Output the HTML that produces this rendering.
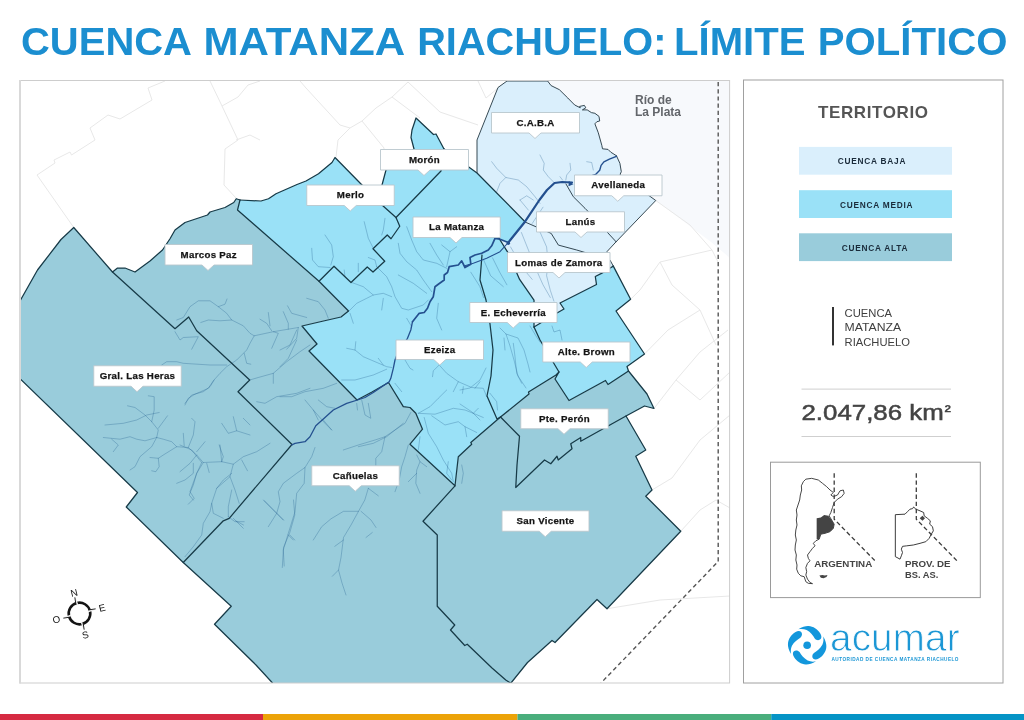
<!DOCTYPE html>
<html lang="es"><head><meta charset="utf-8">
<title>Cuenca Matanza Riachuelo: Límite Político</title>
<style>
html,body{margin:0;padding:0;background:#fff;}
body{width:1024px;height:720px;overflow:hidden;position:relative;font-family:"Liberation Sans",sans-serif;}
svg{position:absolute;left:0;top:0;display:block;}
text{font-family:"Liberation Sans",sans-serif;}
.lb{font-weight:bold;font-size:9.7px;letter-spacing:.3px;fill:#151515;stroke:#151515;stroke-width:.25;text-anchor:middle;}
.bd{fill:none;stroke:#173a47;stroke-width:1.25;stroke-linejoin:round;stroke-linecap:round;}
.st{fill:none;stroke:#1f5a8c;stroke-width:.8;stroke-opacity:.38;stroke-linejoin:round;stroke-linecap:round;}
.ft{fill:none;stroke:#e8e8e8;stroke-width:1;stroke-linejoin:round;}
.rv{fill:none;stroke:#24508f;stroke-linejoin:round;stroke-linecap:round;}
.ds{fill:none;stroke:#555;stroke-width:1;stroke-dasharray:4 3;}
</style></head><body>
<svg width="1024" height="720" viewBox="0 0 1024 720">
<rect x="0" y="0" width="1024" height="720" fill="#fff"/>
<text x="21" y="55.1" font-size="38.1" font-weight="bold" fill="#1b8ed0" textLength="171" lengthAdjust="spacingAndGlyphs">CUENCA</text>
<text x="203.4" y="55.1" font-size="38.1" font-weight="bold" fill="#1b8ed0" textLength="201.8" lengthAdjust="spacingAndGlyphs">MATANZA</text>
<text x="417.2" y="55.1" font-size="38.1" font-weight="bold" fill="#1b8ed0" textLength="249.2" lengthAdjust="spacingAndGlyphs">RIACHUELO:</text>
<text x="674" y="55.1" font-size="38.1" font-weight="bold" fill="#1b8ed0" textLength="131.5" lengthAdjust="spacingAndGlyphs">LÍMITE</text>
<text x="817.8" y="55.1" font-size="38.1" font-weight="bold" fill="#1b8ed0" textLength="189.6" lengthAdjust="spacingAndGlyphs">POLÍTICO</text>
<clipPath id="mapclip"><rect x="20" y="80.5" width="710" height="602.5"/></clipPath>
<g clip-path="url(#mapclip)">
<polygon points="547,81 730,81 730,258 711,242 655.75,200.5 620,174.5 621.3,171.7 619.9,163.3 616.4,155.7 610.8,152.2 608,149.4 602.5,148.8 601.8,145.3 598.3,132.8 594.9,123.8 596.9,121.7 599.7,121 599,116.4 594.9,113.3 591.4,112.6 587.2,109.9 582.4,109.9 585.8,107.8 584.4,105.4 579.6,106.4 580.3,107.8 574.7,105 567.8,98 559.4,89.7 551.1,85.6 547.6,81" fill="#f7f9fc"/>
<polyline class="ft" points="73.75,227.5 37,175 55,163 54,160 70,152 71.5,155 95,140 90,128 108,115 120,119 152,100 148,88 165,81"/>
<polyline class="ft" points="210,81 222,106 238,97 248,85"/>
<polyline class="ft" points="222,106 238,140 225,149 224,185 236,198"/>
<polyline class="ft" points="248,85 260,81"/>
<polyline class="ft" points="236,140 250,135 260,140"/>
<polyline class="ft" points="300,81 306,88 340,125 350,128 338,140 336,157"/>
<polyline class="ft" points="350,128 362,121 376,108 392,97 408,82"/>
<polyline class="ft" points="362,121 384,148 382,170"/>
<polyline class="ft" points="392,97 420,118"/>
<polyline class="ft" points="408,82 440,112 478,125"/>
<polyline class="ft" points="478,81 486,98 498,88"/>
<polyline class="ft" points="655.75,200.5 690,225 712,250 718,262"/>
<polyline class="ft" points="630.6,299.3 640,290 660,262 712,250"/>
<polyline class="ft" points="660,262 672,285 700,310 716,345"/>
<polyline class="ft" points="644.5,354 668,330 700,310"/>
<polyline class="ft" points="654,408.5 676,380 700,352 728,330"/>
<polyline class="ft" points="676,380 700,400 730,372"/>
<polyline class="ft" points="652,490 672,478 700,440 730,415"/>
<polyline class="ft" points="680.75,531.25 700,510 716,500"/>
<polyline class="ft" points="607,608.75 660,600 730,596"/>
<polyline class="ft" points="716,500 730,508"/>
<polygon points="20,301 37.5,270 61,239.5 73.75,227.5 112.5,272 117.5,268 125,268 135,272 150,261 162.5,250 170,238.75 175,230 185,222.5 207.5,215 210,212 225,207.5 233.75,202.5 236.25,198.75 240,200 237.5,210 319,281.25 348.5,311 341,317 323.5,321 302,326 317,344 309,351 357,400 372,392 388.5,382.5 403.3,406.7 410,407.5 415.8,413.3 422.5,429.2 410,444.2 455,485.8 458.3,456.7 471.7,444.2 470.8,442.5 500.5,417 529,394 528.5,392 556,375 559,372 555,379 569,400.5 605.5,380.5 608,384.5 628.5,371 647,394 654,408.5 644.5,406 626,416 645.75,450 635.75,456.25 652,490 645.75,496.25 680.75,531.25 607,608.75 597,599.5 555,642.5 552,640.5 527.5,662.5 511,683 272.5,683 256,665 214.5,624.25 231.25,606.25 183.25,562.5 126.25,507 137.5,492.5 20,378.75" fill="#99ccdb"/>
<polygon points="240,200 261,201 268.5,198.75 276,193.75 297,184.5 306,181 318.5,173.75 332,162.5 335,157.5 361,184 382,205 382,185 386,170 414,149 411,137.5 412,130 416,118 433.5,134.5 436,134 444,149 477,173 525,221.7 560,250 613.3,266.1 630.6,299.3 616,311 644.5,354 627,366.5 628.5,371 608,384.5 605.5,380.5 569,400.5 555,379 559,372 556,375 528.5,392 529,394 500.5,417 470.8,442.5 471.7,444.2 458.3,456.7 455,485.8 410,444.2 422.5,429.2 415.8,413.3 410,407.5 403.3,406.7 388.5,382.5 372,392 357,400 309,351 317,344 302,326 323.5,321 341,317 348.5,311 319,281.25 237.5,210 240,200" fill="#9ae1f7"/>
<polygon points="477,172.5 477,140 498,87.5 507,81 547.6,81 551.1,85.6 559.4,89.7 567.8,98 574.7,105 580.3,107.8 579.6,106.4 584.4,105.4 585.8,107.8 582.4,109.9 587.2,109.9 591.4,112.6 594.9,113.3 599,116.4 599.7,121 596.9,121.7 594.9,123.8 598.3,132.8 601.8,145.3 602.5,148.8 608,149.4 610.8,152.2 616.4,155.7 619.9,163.3 621.3,171.7 620,174.5 655.75,200.5 616.1,241.8 607.1,251.5 607,258 609.9,259.9 613.3,266.1 610.6,267.8 601.5,273.4 595.3,276.5 596.5,284.5 560,303 564,309 557,313 534,327 534,300.2 519.6,279.4 507.8,252.3 498.8,238 507.8,243.3 525,221.7" fill="#daeffc"/>
<polyline class="st" points="103.3,437.5 120,439.2 130,436.7 136.7,439.2 145,440.8 156.7,437.5 163.3,439.2 171.7,441.7 176.7,446.7 188.3,447.5 196.7,455 203.3,462.5 221.7,461.7 233.3,464.2 243.3,456.7 256.7,451.7 270,443.3"/>
<polyline class="st" points="156.7,437.5 158.3,430 151.7,421.7 145,415 135,407.5 127.5,405.8"/>
<polyline class="st" points="151.7,421.7 154.2,410 154.2,396.7 148.3,395.8"/>
<polyline class="st" points="105,425 123.3,423.3 136.7,420 146.7,415 159.2,412.5"/>
<polyline class="st" points="158.3,428.3 167.5,415.8"/>
<polyline class="st" points="156.7,437.5 151.7,446.7 140,456.7 135,466.7 130,470"/>
<polyline class="st" points="176.7,446.7 163.3,455 158.3,458.3 150,457.5"/>
<polyline class="st" points="158.3,458.3 159.2,466.7 155.8,471.7 151.7,470.8"/>
<polyline class="st" points="188.3,447.5 193.3,435 195,421.7 191.7,418.3"/>
<polyline class="st" points="183.3,433.3 184.2,445.8"/>
<polyline class="st" points="196.7,451.7 205,441.7"/>
<polyline class="st" points="196.7,455 190,463.3 180,471.7"/>
<polyline class="st" points="193.3,463.3 193.3,473.3 185,480 176.7,483.3"/>
<polyline class="st" points="203.3,462.5 196.7,473.3 193.3,485 189.2,495 193.3,500"/>
<polyline class="st" points="206.7,463.3 209.2,472.5"/>
<polyline class="st" points="221.7,461.7 223.3,456.7 219.2,445"/>
<polyline class="st" points="233.3,464.2 230,476.7 216.7,488.3 211.7,503.3 213.3,513.3 223.3,518.3"/>
<polyline class="st" points="230,476.7 235,490 239.2,503.3"/>
<polyline class="st" points="231.7,490 228.3,506.7 228.3,516.7"/>
<polyline class="st" points="231.7,473.3 223.3,480 216.7,488.3"/>
<polyline class="st" points="241.7,460 247.5,470.8"/>
<polyline class="st" points="185,403.3 191.7,395 203.3,391.7 210,386.7 214.2,380"/>
<polyline class="st" points="221.7,423.3 228.3,433.3 236.7,430.8 250,435"/>
<polyline class="st" points="236.7,430.8 233.3,416.7"/>
<polyline class="st" points="243.3,418.3 250,425"/>
<polyline class="st" points="111.7,439.2 118.3,445 113.3,451.7"/>
<polyline class="st" points="180,445 191.7,450 201.7,462.5"/>
<polyline class="st" points="201.7,462.5 196.7,473.3 190,491.7 194.2,498.3 188.3,504.2"/>
<polyline class="st" points="220,445 221.7,461.7"/>
<polyline class="st" points="211.7,503.3 210,511.7 203.3,523.3 201.7,535 193.3,546.7 185,556.7"/>
<polyline class="st" points="228.3,516.7 235,521.7 244.2,521.7"/>
<polyline class="st" points="233.3,518.3 243.3,528.3"/>
<polyline class="st" points="176.7,320 183.3,317.5 190,306.7 198.3,300.8 210,300.8 218.3,306.7 226.7,313.3 231.7,320 243.3,325.8 250,333.3 254.2,335.8 273.3,331.7 288.3,329.2 298.3,327.5"/>
<polyline class="st" points="218.3,306.7 225,304.2 227,299"/>
<polyline class="st" points="200.8,322.5 208.3,320 220,320.8 231.7,320"/>
<polyline class="st" points="175,331.7 180,340 183.3,337.5 198.3,336.7 191.7,349.2"/>
<polyline class="st" points="254.2,335.8 250,343.3 246.7,350 236.7,360 226.7,366.7 220,373.3 213.3,380.8 208.3,388.3 195,394.2 188.3,398.3 185,405"/>
<polyline class="st" points="226.7,365 210,365 183.3,363.3 176.7,361.7 166.7,361.7 161.7,365"/>
<polyline class="st" points="244.2,353.3 246.7,363.3 250.8,364.2"/>
<polyline class="st" points="260,319.2 266.7,323.3 271.7,330.8"/>
<polyline class="st" points="268.3,312.5 270,325.8"/>
<polyline class="st" points="283.3,311.7 288.3,323.3 288.3,329.2"/>
<polyline class="st" points="273.3,331.7 278.3,333.3 271.7,348.3"/>
<polyline class="st" points="298.3,327.5 296.7,338.3 286.7,349.2"/>
<polyline class="st" points="287.5,305.8 291.7,313.3 306.7,317.5"/>
<polyline class="st" points="310,345 300,351.7 286.7,361.7 273.3,373.3 258.3,377.5 249.7,380"/>
<polyline class="st" points="273.3,373.3 273.3,383.3"/>
<polyline class="st" points="310,388.3 296.7,393.3 276.7,396.7 265,403.3 256.7,401.7"/>
<polyline class="st" points="280,396.7 291.7,396.7 305,391.7 323.3,388.3 336.7,383.3"/>
<polyline class="st" points="305,400 313.3,410 318.3,420"/>
<polyline class="st" points="318.3,400 326.7,406.7 335,408.3"/>
<polyline class="st" points="280,366.7 288.3,358.3 296.7,340"/>
<polyline class="st" points="280,350 290,345 296.7,330"/>
<polyline class="st" points="313.3,410 325,423.3 331.7,430"/>
<polyline class="st" points="306.7,298.3 318.3,301.7 325,310 328.3,318.3"/>
<polyline class="st" points="325,235 331.7,245 333.3,256.7 330.8,265"/>
<polyline class="st" points="311.7,248.3 312.5,260 318.3,266.7 330,267.5"/>
<polyline class="st" points="364.2,221.7 368.3,238.3 373.3,248.3"/>
<polyline class="st" points="385,218.3 383.3,230 381.7,235"/>
<polyline class="st" points="358.3,263.3 358.3,271.7"/>
<polyline class="st" points="344.2,270 345,276.7"/>
<polyline class="st" points="368.3,257.5 375,260 376.7,266.7"/>
<polyline class="st" points="406.7,226.7 411.7,240 416.7,251.7 423.3,260 436.7,263.3 446.7,268.3"/>
<polyline class="st" points="398.3,243.3 400,253.3 406.7,261.7 416.7,270 423.3,280 431.7,291.7"/>
<polyline class="st" points="430,243.3 436.7,255 443.3,265"/>
<polyline class="st" points="441.7,245 450,251.7 456.7,246.7"/>
<polyline class="st" points="450,251.7 446.7,266.7"/>
<polyline class="st" points="376.7,266.7 386.7,276.7 391.7,286.7 395,296.7 401.7,308.3 408.3,310 423.3,305 428.3,300"/>
<polyline class="st" points="398.3,275 413.3,283.3 426.7,293.3"/>
<polyline class="st" points="348.3,311.7 356.7,303.3 366.7,298.3 373.3,295 383.3,293.3 391.7,296.7"/>
<polyline class="st" points="351.7,282.5 363.3,286.7 373.3,295"/>
<polyline class="st" points="383.3,298.3 381.7,310"/>
<polyline class="st" points="350,313.3 353.3,323.3"/>
<polyline class="st" points="406.7,318.3 411.7,326.7"/>
<polyline class="st" points="438.3,303.3 436.7,318.3 441.7,330"/>
<polyline class="st" points="346.7,348.3 355,350 363.3,356.7 375,361.7 386.7,366.7 391.7,367.5"/>
<polyline class="st" points="355.8,341.7 355,350"/>
<polyline class="st" points="341.7,380 355,380 373.3,375 386.7,369.2"/>
<polyline class="st" points="378.3,358.3 383.3,365"/>
<polyline class="st" points="405,360 410,368.3 413,370"/>
<polyline class="st" points="395,383.3 401.7,391.7"/>
<polyline class="st" points="439.2,365 433.3,370.8 432.5,376.7"/>
<polyline class="st" points="439.2,365 446.7,373.3 458.3,381.7 471.7,387.5 483.3,388.3 486.7,396.7"/>
<polyline class="st" points="458.3,381.7 453.3,391.7"/>
<polyline class="st" points="463.3,386.7 462.5,393.3"/>
<polyline class="st" points="480,381.7 475,388.3"/>
<polyline class="st" points="418.3,413.3 430,406.7 438.3,398.3 446.7,390"/>
<polyline class="st" points="418.3,413.3 435,414.2 453.3,408.3 465,410 473.3,413.3 483.3,417.5"/>
<polyline class="st" points="431.7,415.8 445,425 458.3,421.7 465,426.7 476.7,432.5"/>
<polyline class="st" points="465,426.7 466.7,436.7"/>
<polyline class="st" points="473.3,413.3 478.3,408.3"/>
<polyline class="st" points="424.2,417.5 428.3,433.3 436.7,446.7 443.3,460 451.7,473.3 453.3,481.7"/>
<polyline class="st" points="448.3,461.7 446.7,473.3 451.7,480"/>
<polyline class="st" points="420,436.7 418.3,450"/>
<polyline class="st" points="460,390 470,388 480,380 486,368"/>
<polyline class="st" points="460,404 472,412 480,420"/>
<polyline class="st" points="461.7,465 463.3,473.3 461.7,483.3"/>
<polyline class="st" points="315,447.5 311.7,456.7 305,467.5 296.7,473.3 283.3,483.3 278.3,491.7 280,501.7 276.7,513.3 268.3,526.7"/>
<polyline class="st" points="305,467.5 304.2,483.3 296.7,493.3 295,511.7 288.3,533.3 283.3,550 284.2,566"/>
<polyline class="st" points="264.2,500.8 283.3,520"/>
<polyline class="st" points="288.3,535 293.3,540"/>
<polyline class="st" points="313.3,540 321.7,526.7 331,518.8 343.5,511.3 358.5,511.3 364.8,500 368.3,488.3"/>
<polyline class="st" points="358.5,511.3 351,525 343.5,537.5 341,557.5 338.5,570 342,583 346,595"/>
<polyline class="st" points="338.5,570 332.3,576.3"/>
<polyline class="st" points="361,511.3 371,520 376,527.5"/>
<polyline class="st" points="372.3,532.5 366,537.5"/>
<polyline class="st" points="343.5,540 334.8,546.3"/>
<polyline class="st" points="343.3,450 358.3,445 375,440 385,436.7 395,430 405,423.3 410.8,412.5"/>
<polyline class="st" points="385,436.7 381.7,451.7 375.8,458.3 375.8,465.8"/>
<polyline class="st" points="368.3,488.3 378.3,495.8"/>
<polyline class="st" points="408.3,445 405,456.7 401.7,466.7 399.2,480 395,491.7"/>
<polyline class="st" points="416.7,455 420,461.7 416.7,470 415.8,483.3 420,493.3"/>
<polyline class="st" points="420,461.7 426.7,466.7"/>
<polyline class="st" points="416.7,473.3 408.3,481.7"/>
<polyline class="st" points="361.7,400 365,415 370.8,418.3 368.3,403.3"/>
<polyline class="st" points="356.7,403.3 357.5,410"/>
<polyline class="st" points="323.3,420 331.7,430"/>
<polyline class="st" points="403.3,423.3 386.7,436.7 373.3,443.3 358.3,446.7"/>
<polyline class="st" points="263.5,500 276,512.5 283.5,520"/>
<polyline class="st" points="293.5,500 294.8,515 289.8,532.5 283.5,547.5 282.3,567.5"/>
<polyline class="st" points="289.8,535 294.8,540"/>
<polyline class="st" points="236,521 243.5,525"/>
<polyline class="st" points="483.5,259.6 490.7,275.8 503.3,286.6"/>
<polyline class="st" points="470.8,272.2 479.9,286.6 483.5,297.5"/>
<polyline class="st" points="492.5,257.8 499.7,272.2 506.9,284.8"/>
<polyline class="st" points="500,328 506,334 510,346 514,360 518,376 526,388"/>
<polyline class="st" points="506,334 518,338 524,350 528,364 530,372"/>
<polyline class="st" points="504,338 505,350"/>
<polyline class="st" points="530,326 536,336 540,342"/>
<polyline class="st" points="552,326 554,332 560,330 562,340"/>
<polyline class="st" points="513.3,343.3 515,356.7 516.7,373.3 521.7,383.3"/>
<polyline class="st" points="490,393.3 496.7,401.7 497.5,410"/>
<polyline class="st" points="521.4,232.5 528.6,250.5 535.8,268.6 543,284.8 550.3,297.5"/>
<polyline class="st" points="539.4,230.7 546.6,246.9 548,262 546.6,275.8 550.3,290.3 553.9,301.1"/>
<polyline class="st" points="510.5,246.9 523.2,268.6 532.2,279.4"/>
<polyline class="st" points="543,207.2 532.2,223.5"/>
<polyline class="st" points="491.7,161.7 496.7,168.3 505.8,177.5 518.3,180 526.7,186.7 535,196.7 540,203.3"/>
<polyline class="st" points="505.8,177.5 500,183.3 496.7,191.7"/>
<polyline class="st" points="540,155 544.2,163.3 543.3,170 548.3,176.7 553.3,181.7"/>
<polyline class="st" points="570,163.3 570.8,170 566.7,175 565.8,180"/>
<polyline class="st" points="586.7,161.7 591.7,162.5 593.3,170"/>
<polyline class="st" points="520,200 526.7,195.8 533.3,200"/>
<polyline class="st" points="520,200 528.3,210"/>
<polyline class="st" points="560,176.7 562.5,180"/>
<polyline class="bd" points="20,301 37.5,270 61,239.5 73.75,227.5 112.5,272 117.5,268 125,268 135,272 150,261 162.5,250 170,238.75 175,230 185,222.5 207.5,215 210,212 225,207.5 233.75,202.5 236.25,198.75 240,200"/>
<polyline class="bd" points="240,200 237.5,210 319,281.25 348.5,311 341,317 323.5,321 302,326 317,344 309,351 357,400 372,392 388.5,382.5 403.3,406.7 410,407.5 415.8,413.3 422.5,429.2 410,444.2 455,485.8 458.3,456.7 471.7,444.2 470.8,442.5 500.5,417 529,394 528.5,392 556,375 559,372 555,379 569,400.5 605.5,380.5 608,384.5 628.5,371"/>
<polyline class="bd" points="628.5,371 647,394 654,408.5 644.5,406 626,416 645.75,450 635.75,456.25 652,490 645.75,496.25 680.75,531.25 607,608.75 597,599.5 555,642.5 552,640.5 527.5,662.5 511,683"/>
<polyline class="bd" points="272.5,683 256,665 214.5,624.25 231.25,606.25 183.25,562.5 126.25,507 137.5,492.5 20,378.75"/>
<polyline class="bd" points="240,200 261,201 268.5,198.75 276,193.75 297,184.5 306,181 318.5,173.75 332,162.5 335,157.5 361,184 382,205"/>
<polyline class="bd" points="382,205 382,185 386,170 414,149 411,137.5 412,130 416,118 433.5,134.5 436,134 444,149"/>
<polyline class="bd" points="444,149 477,173 525,221.7"/>
<polyline class="bd" points="613.3,266.1 630.6,299.3 616,311 644.5,354 627,366.5 628.5,371"/>
<polyline class="bd" style="stroke-width:.95;stroke:#2c3f4a" points="477,172.5 477,140 498,87.5 507,81 547.6,81 551.1,85.6 559.4,89.7 567.8,98 574.7,105 580.3,107.8 579.6,106.4 584.4,105.4 585.8,107.8 582.4,109.9 587.2,109.9 591.4,112.6 594.9,113.3 599,116.4 599.7,121 596.9,121.7 594.9,123.8 598.3,132.8 601.8,145.3 602.5,148.8 608,149.4 610.8,152.2 616.4,155.7"/>
<polyline class="bd" style="stroke-width:.95;stroke:#2c3f4a" points="616.4,155.7 619.9,163.3 621.3,171.7 620,174.5 655.75,200.5 616.1,241.8"/>
<polyline class="bd" style="stroke-width:.95;stroke:#2c3f4a" points="616.1,241.8 607.1,251.5 607,258 609.9,259.9 613.3,266.1"/>
<polyline class="bd" points="613.3,266.1 610.6,267.8 601.5,273.4 595.3,276.5 596.5,284.5 560,303 564,309 557,313 534,327"/>
<polyline class="bd" points="534,327 534,300.2 519.6,279.4 507.8,252.3 498.8,238"/>
<polyline class="bd" points="112.5,272 175,328.7 188.7,317 196.7,330.8 249.7,380 238,391.7 292,444.5"/>
<polyline class="bd" points="292,444.5 229.2,518.3 223.3,520.8 183.25,562.5"/>
<polyline class="bd" points="455,485.8 423,521.25 437.25,535 437.25,606.25 454.75,625 450.5,630 464.75,645.5 467.25,644.25 492,668 505.75,680 510.5,683"/>
<polyline class="bd" points="500.5,417 519.5,436.25 517,465 515.75,487.5 544.5,460 550.75,463.75 557,456.25 558.25,460 572,448.75 570.75,443.75 580.75,437.5 580.75,441.25 626,416"/>
<polyline class="bd" points="396,217.5 399.75,226.25 391,238.75 387.25,235 373,248.75 384.75,261.25 373,272 367.25,267 351,282.5 334,266.25 319,281.25"/>
<polyline class="bd" points="382,205 396,217.5 441,171 444,149"/>
<polyline class="bd" points="482,255 480,280 486,300 490,324 493,350 491,376 487,396 497,419 500.5,417"/>
<polyline class="bd" points="534,327 540,340 559,372"/>
<polyline class="bd" style="stroke-width:.95;stroke:#2c3f4a" points="525,222 551.2,233.4 558.4,245.1 576.7,250 590,254 606,258"/>
<polyline class="bd" style="stroke-width:.95;stroke:#2c3f4a" points="566,184 573.3,196.7 585,208.3 588.3,211.7 607.8,232.8 616.1,241.8"/>
<polyline class="rv" stroke-width="1.3" points="291.7,445 295,443.3 305,441.7 310,436.7 315.8,425.8 325,417.5 333.3,410 346.7,403.3 357.5,400 365,397.5 373.3,392.5 389.2,381.7 390.8,378.3 393.3,368.3 395,360 398,352 403,345 407.5,338.3 410.8,330 412.5,321.7"/>
<polyline class="rv" stroke-width="1.7" points="412.5,321.7 419.2,313.3 424.2,312.5 427.5,308.3 430,301.7 433.3,296.7 435,286.7 438.3,284.2 444.2,280 444.2,275 447.5,272.5 449.2,266.7 458.3,265 461.7,260.8 465,267.5 470.8,264.2 470,257.5 475,255 481.7,253.3 488.3,250 491.7,245.8 495,238.3 500,239.2 508.3,242.5"/>
<polyline class="rv" stroke-width="1.1" points="465,265.8 473.3,263.3 486.7,258.3 500,251.7 508.3,242.5"/>
<polyline class="rv" stroke-width="2.2" points="508.3,242.5 525,221.7 539.4,200 547,190 554.5,183 562,182 572,182.5"/>
<polyline class="rv" stroke-width="1.4" points="588,177 595.6,174.4 599.7,170.3 601.1,165.4 603.9,161.9 609.4,159.2 616.4,156.4"/>
<path d="M568.8 181 l4.6 3.2 l-4.9 2.1z" fill="#24508f"/>
<circle cx="508.3" cy="243.2" r="1.7" fill="#24508f"/>
<polyline class="ds" style="stroke-width:1.4;stroke:#555;stroke-dasharray:4.2 3" points="718.2,82 718.2,561.5 601,683"/>
</g>
<rect x="20" y="80.5" width="709.6" height="602.5" fill="none" stroke="#cdcdcd" stroke-width="1"/>
<rect x="19" y="80" width="2" height="603.5" fill="#d9d9d9"/>
<text x="635" y="104" font-size="12" font-weight="bold" fill="#63666b">Río de</text>
<text x="635" y="116" font-size="12" font-weight="bold" fill="#63666b">La Plata</text>
<g><path d="M491.5 112.5 h88 v20.5 H541 l-6 5.5 l-6 -5.5 H491.5 z" fill="#fff" stroke="#b9c6cd" stroke-width=".9"/>
<text class="lb" x="535.5" y="125.75">C.A.B.A</text></g>
<g><path d="M380.5 149.5 h88 v20.5 H430 l-6 5.5 l-6 -5.5 H380.5 z" fill="#fff" stroke="#b9c6cd" stroke-width=".9"/>
<text class="lb" x="424.5" y="162.75">Morón</text></g>
<g><path d="M574.5 175 h87.5 v20.75 H623.75 l-6 5.5 l-6 -5.5 H574.5 z" fill="#fff" stroke="#b9c6cd" stroke-width=".9"/>
<text class="lb" x="618.25" y="188.375">Avellaneda</text></g>
<g><path d="M306.75 185 h87.5 v20.5 H356.25 l-6 5.5 l-6 -5.5 H306.75 z" fill="#fff" stroke="#b9c6cd" stroke-width=".9"/>
<text class="lb" x="350.5" y="198.25">Merlo</text></g>
<g><path d="M536.5 211.75 h88 v20.25 H587 l-6 5.5 l-6 -5.5 H536.5 z" fill="#fff" stroke="#b9c6cd" stroke-width=".9"/>
<text class="lb" x="580.5" y="224.875">Lanús</text></g>
<g><path d="M413 217 h87.25 v20.5 H462 l-6 5.5 l-6 -5.5 H413 z" fill="#fff" stroke="#b9c6cd" stroke-width=".9"/>
<text class="lb" x="456.625" y="230.25">La Matanza</text></g>
<g><path d="M165 244.5 h87.5 v20.5 H214 l-6 5.5 l-6 -5.5 H165 z" fill="#fff" stroke="#b9c6cd" stroke-width=".9"/>
<text class="lb" x="208.75" y="257.75">Marcos Paz</text></g>
<g><path d="M507.5 252.5 h102.5 v20 H565 l-6 5.5 l-6 -5.5 H507.5 z" fill="#fff" stroke="#b9c6cd" stroke-width=".9"/>
<text class="lb" x="558.75" y="265.5">Lomas de Zamora</text></g>
<g><path d="M469.75 302.5 h87.25 v20 H519.25 l-6 5.5 l-6 -5.5 H469.75 z" fill="#fff" stroke="#b9c6cd" stroke-width=".9"/>
<text class="lb" x="513.375" y="315.5">E. Echeverría</text></g>
<g><path d="M396 340 h87.5 v19.5 H445.75 l-6 5.5 l-6 -5.5 H396 z" fill="#fff" stroke="#b9c6cd" stroke-width=".9"/>
<text class="lb" x="439.75" y="352.75">Ezeiza</text></g>
<g><path d="M542.75 342 h87.25 v20 H592.25 l-6 5.5 l-6 -5.5 H542.75 z" fill="#fff" stroke="#b9c6cd" stroke-width=".9"/>
<text class="lb" x="586.375" y="355">Alte. Brown</text></g>
<g><path d="M93.75 365.75 h87.5 v20.5 H143 l-6 5.5 l-6 -5.5 H93.75 z" fill="#fff" stroke="#b9c6cd" stroke-width=".9"/>
<text class="lb" x="137.5" y="379">Gral. Las Heras</text></g>
<g><path d="M520.75 408.75 h87.5 v20 H570 l-6 5.5 l-6 -5.5 H520.75 z" fill="#fff" stroke="#b9c6cd" stroke-width=".9"/>
<text class="lb" x="564.5" y="421.75">Pte. Perón</text></g>
<g><path d="M311.75 465.75 h87.5 v20 H361.25 l-6 5.5 l-6 -5.5 H311.75 z" fill="#fff" stroke="#b9c6cd" stroke-width=".9"/>
<text class="lb" x="355.5" y="478.75">Cañuelas</text></g>
<g><path d="M502 510.75 h87 v20.5 H551.25 l-6 5.5 l-6 -5.5 H502 z" fill="#fff" stroke="#b9c6cd" stroke-width=".9"/>
<text class="lb" x="545.5" y="524">San Vicente</text></g>
<g transform="translate(79.5 613.5) rotate(-14)">
<circle r="10.8" fill="none" stroke="#141414" stroke-width="2.6"/>
<g transform="rotate(0)"><path d="M0 -16.8 L1.1 -8.6 L-1.1 -8.6z" fill="#eee"/><path d="M-0.6 -16.8 L-1.3 -9.2" stroke="#222" stroke-width=".9" fill="none"/></g>
<g transform="rotate(90)"><path d="M0 -16.8 L1.1 -8.6 L-1.1 -8.6z" fill="#eee"/><path d="M-0.6 -16.8 L-1.3 -9.2" stroke="#222" stroke-width=".9" fill="none"/></g>
<g transform="rotate(180)"><path d="M0 -16.8 L1.1 -8.6 L-1.1 -8.6z" fill="#eee"/><path d="M-0.6 -16.8 L-1.3 -9.2" stroke="#222" stroke-width=".9" fill="none"/></g>
<g transform="rotate(270)"><path d="M0 -16.8 L1.1 -8.6 L-1.1 -8.6z" fill="#eee"/><path d="M-0.6 -16.8 L-1.3 -9.2" stroke="#222" stroke-width=".9" fill="none"/></g>
<text x="-0.3" y="-18" font-size="9.8" fill="#141414" text-anchor="middle">N</text>
<text x="0.6" y="25.6" font-size="9.8" fill="#141414" text-anchor="middle">S</text>
<text x="23.4" y="3.4" font-size="9.8" fill="#141414" text-anchor="middle">E</text>
<text x="-24" y="3.6" font-size="9.8" fill="#141414" text-anchor="middle">O</text>
</g>
<rect x="743.5" y="80" width="259.5" height="603" fill="#fff" stroke="#a0a0a0" stroke-width="1"/>
<text x="873" y="117.7" font-size="17" font-weight="bold" fill="#555" text-anchor="middle" textLength="110" lengthAdjust="spacing">TERRITORIO</text>
<rect x="799" y="146.9" width="153" height="27.8" fill="#daeffc"/>
<text x="837.8" y="164.4" font-size="8.3" font-weight="bold" fill="#1a2b3a" textLength="67.6" lengthAdjust="spacing">CUENCA BAJA</text>
<rect x="799" y="190.2" width="153" height="27.8" fill="#9ae1f7"/>
<text x="840" y="207.7" font-size="8.3" font-weight="bold" fill="#1a2b3a" textLength="72.6" lengthAdjust="spacing">CUENCA MEDIA</text>
<rect x="799" y="233.3" width="153" height="27.8" fill="#99ccdb"/>
<text x="841.8" y="250.6" font-size="8.3" font-weight="bold" fill="#1a2b3a" textLength="65.6" lengthAdjust="spacing">CUENCA ALTA</text>
<rect x="832" y="307" width="2" height="38.4" fill="#333"/>
<text x="844.6" y="317.2" font-size="11.2" fill="#3f3f3f" textLength="47.4" lengthAdjust="spacingAndGlyphs">CUENCA</text>
<text x="844.6" y="331.4" font-size="11.2" fill="#3f3f3f" textLength="56.6" lengthAdjust="spacingAndGlyphs">MATANZA</text>
<text x="844.6" y="345.6" font-size="11.2" fill="#3f3f3f" textLength="65.4" lengthAdjust="spacingAndGlyphs">RIACHUELO</text>
<rect x="801.5" y="388.6" width="149.5" height="1" fill="#cfcfcf"/>
<rect x="801.5" y="436" width="149.5" height="1" fill="#cfcfcf"/>
<text x="801.5" y="420" font-size="22.3" fill="#444" stroke="#444" stroke-width=".5" textLength="142.2" lengthAdjust="spacingAndGlyphs">2.047,86 km</text><text x="944.2" y="418.6" font-size="21" font-weight="bold" fill="#444">²</text>
<rect x="770.5" y="462.2" width="209.8" height="135.4" fill="#fff" stroke="#9a9a9a" stroke-width="1"/>
<polygon points="805.83,479.17 811.67,478.33 818.33,480 822.5,483.33 826.67,486.67 830,490 833.33,492.5 830.83,495 833.33,496.67 837.5,495 840,490.83 843.33,490 844.17,493.33 841.67,496.67 837.5,499.17 834.17,502.5 832.5,507.5 830.83,512.5 829.17,515.83 831.67,520 834.17,524.17 833.33,528.33 830,531.67 825,533.33 820.83,534.17 819.17,539.17 815.83,540.83 813.33,543.33 815,545.83 812.5,548.33 810,551.67 807.5,555 808.33,558.33 810,560.83 807.5,563.33 805.83,567.5 806.67,571.67 805.83,575 807.5,579.17 810,582.5 812.5,583.67 808.33,583.33 805.83,581.67 804.17,576.67 800.83,575.83 798.33,573.33 796.67,569.17 797,565 795.83,560 796.33,555 795,550 795.33,545 796.33,540 795.33,535 795.83,530 797,525 796.33,520 797,515 796.33,510 798,505 799.67,500 800.33,495 801.67,490 801.33,485.83 803.33,481.67" fill="#fff" stroke="#333" stroke-width=".9" stroke-linejoin="round"/>
<polygon points="816.67,518.33 820.83,517.5 824.17,515 828.33,515.83 831.67,520 834.17,524.17 833.33,528.33 830,531.67 825,533.33 820.83,534.17 819.17,539.17 816.67,539.17" fill="#444"/>
<path d="M819.4 575.4 l3 -.5 l2.5 .6 l2.6 -.4 l-1 2 l-3 1.2 l-2.6 -.6z" fill="#444"/>
<polyline class="ds" style="stroke-width:1.3;stroke:#3c3c3c;stroke-dasharray:4.4 2.7" points="834.2,473.3 834.2,519.2 875,560.8"/>
<polygon points="895.33,514.67 905,514.17 907.5,511.67 910,509.17 912.5,508.67 913.67,507 915.83,509.17 920,510.83 923.67,512.5 924.17,515.83 927.5,518.33 930.33,520.83 929.67,524.17 932.5,526.67 933.33,530.83 930.83,535 929.17,538.33 925.83,541.67 920,543.33 913.33,545 906.67,545.83 902.5,546.33 901.33,549.17 902.5,552.5 901.33,555.83 900,559.17 897,557.5 895.33,556.67" fill="#fff" stroke="#333" stroke-width=".95" stroke-linejoin="round"/>
<polygon points="922.5,515.83 925,518.33 922.5,520.83 919.67,518.33" fill="#444"/>
<polyline class="ds" style="stroke-width:1.3;stroke:#3c3c3c;stroke-dasharray:4.4 2.7" points="916.3,473.3 916.3,519.2 957.5,561.3"/>
<text x="814.2" y="566.8" font-size="8.2" font-weight="bold" fill="#444" textLength="58" lengthAdjust="spacingAndGlyphs">ARGENTINA</text>
<text x="905" y="566.8" font-size="8.2" font-weight="bold" fill="#444" textLength="45.6" lengthAdjust="spacingAndGlyphs">PROV. DE</text>
<text x="905" y="578" font-size="8.2" font-weight="bold" fill="#444" textLength="33.3" lengthAdjust="spacingAndGlyphs">BS. AS.</text>
<g>
<g transform="translate(807.15 645.3)" fill="#1397dc">
<circle r="3.8"/>
<path transform="rotate(0)" d="M-8.8 -16 C-5 -18.5 -1 -19.4 1.4 -19.2 C6 -19 10.5 -16 13 -12 C14.5 -9.5 14.6 -7.5 13.5 -6.2 C12 -4.6 9 -4.8 7.6 -6.8 C6 -9.5 3.5 -13 -0.5 -15.2 C-3 -16.4 -6 -16.6 -8.8 -16z"/>
<path transform="rotate(90)" d="M-8.8 -16 C-5 -18.5 -1 -19.4 1.4 -19.2 C6 -19 10.5 -16 13 -12 C14.5 -9.5 14.6 -7.5 13.5 -6.2 C12 -4.6 9 -4.8 7.6 -6.8 C6 -9.5 3.5 -13 -0.5 -15.2 C-3 -16.4 -6 -16.6 -8.8 -16z"/>
<path transform="rotate(180)" d="M-8.8 -16 C-5 -18.5 -1 -19.4 1.4 -19.2 C6 -19 10.5 -16 13 -12 C14.5 -9.5 14.6 -7.5 13.5 -6.2 C12 -4.6 9 -4.8 7.6 -6.8 C6 -9.5 3.5 -13 -0.5 -15.2 C-3 -16.4 -6 -16.6 -8.8 -16z"/>
<path transform="rotate(270)" d="M-8.8 -16 C-5 -18.5 -1 -19.4 1.4 -19.2 C6 -19 10.5 -16 13 -12 C14.5 -9.5 14.6 -7.5 13.5 -6.2 C12 -4.6 9 -4.8 7.6 -6.8 C6 -9.5 3.5 -13 -0.5 -15.2 C-3 -16.4 -6 -16.6 -8.8 -16z"/>
</g>
<text x="830" y="651" font-size="38.5" fill="#1c97d5" stroke="#fff" stroke-width=".8" textLength="129.5" lengthAdjust="spacing">acumar</text>
<text x="831.5" y="660.6" font-size="4.7" font-weight="bold" fill="#1c97d5" textLength="127" lengthAdjust="spacing">AUTORIDAD DE CUENCA MATANZA RIACHUELO</text>
</g>
<rect x="0" y="714" width="263" height="6" fill="#d62a42"/>
<rect x="263" y="714" width="254.5" height="6" fill="#eca308"/>
<rect x="517.5" y="714" width="253.75" height="6" fill="#4aae7c"/>
<rect x="771.25" y="714" width="252.75" height="6" fill="#0594c6"/>
</svg>
</body></html>
